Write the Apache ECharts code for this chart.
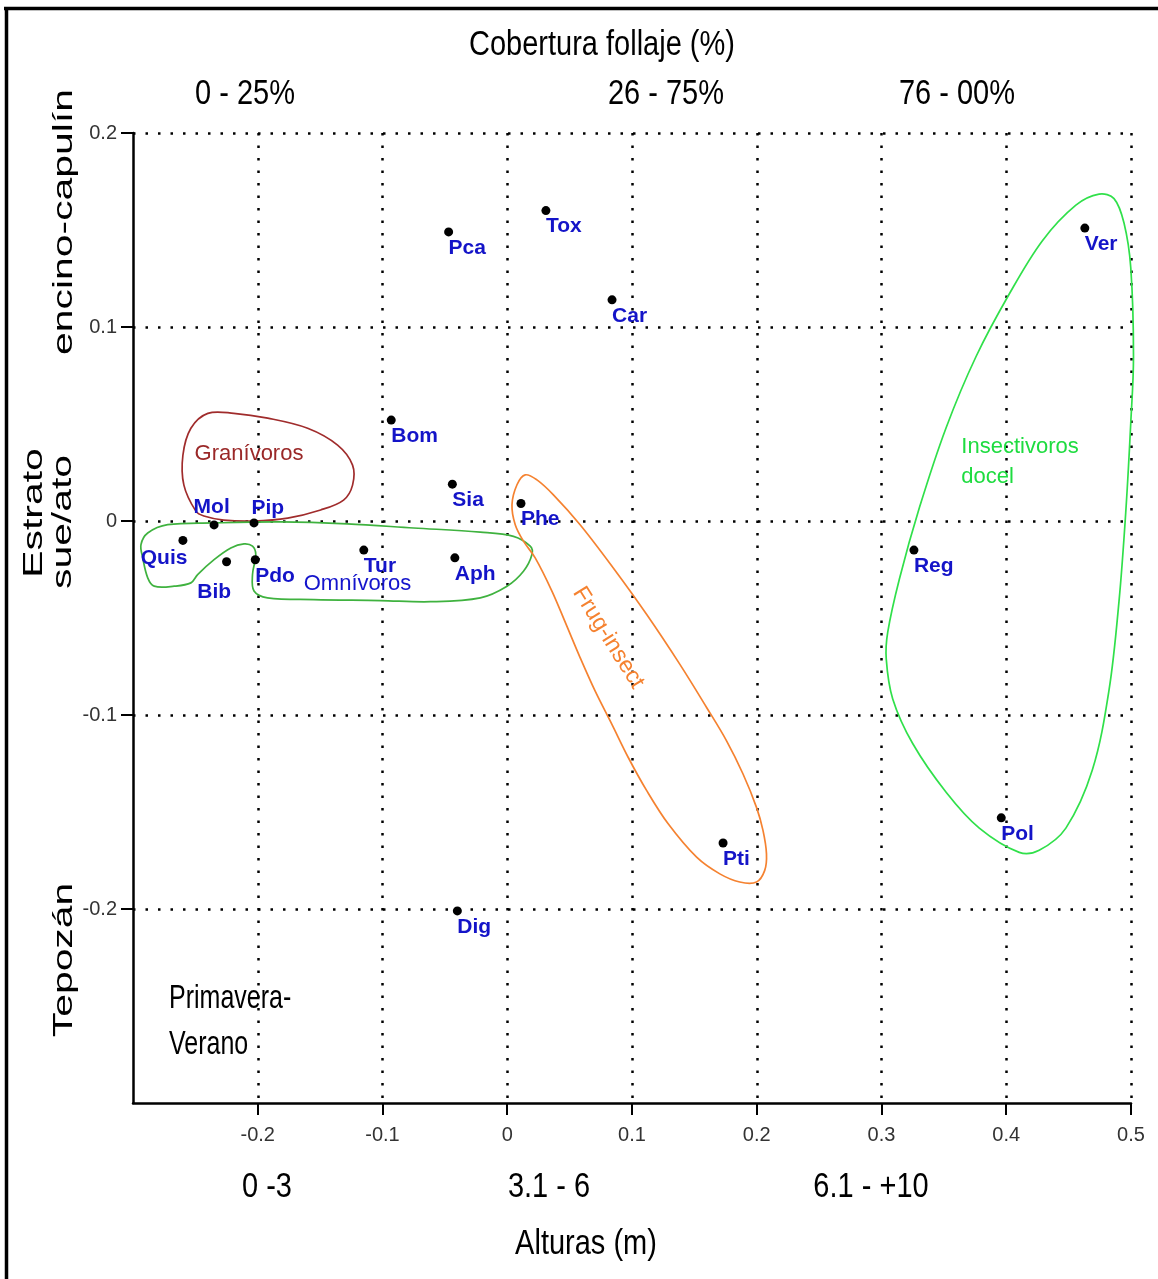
<!DOCTYPE html>
<html>
<head>
<meta charset="utf-8">
<script src="https://cdn.jsdelivr.net/npm/echarts@6/dist/echarts.min.js"></script>
<style>
  html, body { margin: 0; padding: 0; background: #fff; }
  #chart { width: 1158px; height: 1279px; }
</style>
</head>
<body>
<div id="chart"></div>
<script>
// Species codes and their ordination scores
const species = ['Pca', 'Tox', 'Car', 'Ver', 'Bom', 'Sia', 'Phe', 'Mol', 'Pip', 'Quis', 'Bib', 'Pdo', 'Tur', 'Aph', 'Reg', 'Pol', 'Pti', 'Dig'];
const scoreX = [-0.047, 0.031, 0.084, 0.463, -0.093, -0.044, 0.011, -0.235, -0.203, -0.260, -0.225, -0.202, -0.115, -0.042, 0.326, 0.396, 0.173, -0.040];
const scoreY = [0.149, 0.160, 0.114, 0.151, 0.052, 0.019, 0.009, -0.002, -0.001, -0.010, -0.021, -0.020, -0.015, -0.019, -0.015, -0.153, -0.166, -0.201];

// Tick values shown on both axes
const xTicks = [-0.2, -0.1, 0, 0.1, 0.2, 0.3, 0.4, 0.5];
const yTicks = [-0.2, -0.1, 0, 0.1, 0.2];

// Outlines of the feeding guilds, in score coordinates
const granivorosHull = [
  [-0.2496, 0.0051], [-0.2592, 0.0185], [-0.2600, 0.0339], [-0.2536, 0.0478], [-0.2400, 0.0555],
  [-0.2192, 0.0555], [-0.1920, 0.0530], [-0.1600, 0.0478], [-0.1360, 0.0391], [-0.1240, 0.0288],
  [-0.1240, 0.0185], [-0.1312, 0.0108], [-0.1496, 0.0057], [-0.1760, 0.0015], [-0.2032, 0.0000],
  [-0.2272, 0.0005], [-0.2432, 0.0026]
];
const omnivorosHull = [
  [-0.2882, -0.0062], [-0.2722, -0.0019], [-0.2350, -0.0010], [-0.1816, -0.0005], [-0.1282, -0.0015],
  [-0.0750, -0.0036], [-0.0216, -0.0057], [0.0050, -0.0079], [0.0184, -0.0130], [0.0198, -0.0173],
  [0.0130, -0.0259], [-0.0002, -0.0336], [-0.0216, -0.0396], [-0.0616, -0.0416], [-0.1016, -0.0410],
  [-0.1550, -0.0405], [-0.1922, -0.0396], [-0.2030, -0.0361], [-0.2042, -0.0276], [-0.2016, -0.0173],
  [-0.2042, -0.0130], [-0.2110, -0.0118], [-0.2216, -0.0139], [-0.2350, -0.0199], [-0.2482, -0.0276],
  [-0.2536, -0.0319], [-0.2670, -0.0336], [-0.2830, -0.0336], [-0.2882, -0.0293], [-0.2922, -0.0190],
  [-0.2936, -0.0122]
];
const frugInsectHull = [
  [0.0144, 0.0238], [0.0078, 0.0187], [0.0038, 0.0084], [0.0064, -0.0019], [0.0130, -0.0104],
  [0.0224, -0.0190], [0.0358, -0.0361], [0.0472, -0.0533], [0.0584, -0.0704], [0.0704, -0.0876],
  [0.0838, -0.1047], [0.0970, -0.1219], [0.1118, -0.1390], [0.1290, -0.1561], [0.1518, -0.1733],
  [0.1704, -0.1819], [0.1864, -0.1861], [0.1998, -0.1861], [0.2064, -0.1801], [0.2078, -0.1716],
  [0.2050, -0.1595], [0.1998, -0.1476], [0.1890, -0.1304], [0.1758, -0.1133], [0.1598, -0.0961],
  [0.1384, -0.0739], [0.1118, -0.0482], [0.0850, -0.0242], [0.0584, -0.0019], [0.0370, 0.0135],
  [0.0238, 0.0212]
];
const insectivorosHull = [
  [0.4744, 0.1685], [0.4558, 0.1628], [0.4290, 0.1445], [0.4024, 0.1170], [0.3758, 0.0848],
  [0.3518, 0.0481], [0.3304, 0.0069], [0.3144, -0.0298], [0.3050, -0.0573], [0.3038, -0.0711],
  [0.3090, -0.0917], [0.3250, -0.1147], [0.3518, -0.1398], [0.3784, -0.1583], [0.4104, -0.1708],
  [0.4264, -0.1697], [0.4478, -0.1583], [0.4690, -0.1284], [0.4824, -0.0871], [0.4904, -0.0413],
  [0.4958, 0.0046], [0.4998, 0.0504], [0.5020, 0.0848], [0.4998, 0.1307], [0.4944, 0.1536],
  [0.4864, 0.1662]
];

// Guild names and where they are written
const guildNames = ['Granívoros', 'Omnívoros', 'Frug-insect', 'Insectivoros\ndocel'];
const guildX = [-0.207, -0.120, 0.081, 0.364];
const guildY = [0.0344, -0.0324, -0.0602, 0.0305];

const hullShapes = [granivorosHull, omnivorosHull, frugInsectHull, insectivorosHull];
const hullColors = ['#a02c2c', '#3fb23f', '#f58230', '#30e04a'];
const guildColors = ['#9a2828', '#1414cc', '#f58230', '#1edc40'];

// Label placement for species whose name sits away from the default spot
const labelSpot = {
  Quis: { position: [9, 12], align: 'right' },
  Bib: { position: [9, 24], align: 'right' },
  Mol: { position: [-16, -24], align: 'left' },
  Pip: { position: [2, -21], align: 'left' }
};

const FONT = '"Liberation Sans", Arial, sans-serif';

const chart = echarts.init(document.getElementById('chart'), null, { renderer: 'canvas' });

const speciesData = species.map((name, i) => {
  const item = { name: name, value: [scoreX[i], scoreY[i]] };
  if (labelSpot[name]) item.label = labelSpot[name];
  return item;
});

const guildData = guildNames.map((name, i) => {
  const item = {
    name: name,
    value: [guildX[i], guildY[i]],
    label: { color: guildColors[i] }
  };
  if (name === 'Frug-insect') { item.label.rotate = -58; item.label.fontSize = 23; }
  if (name.indexOf('Insectivoros') === 0) {
    item.label.align = 'left';
    item.label.lineHeight = 30;
  }
  return item;
});

function hText(text, x, y, size, sy) {
  return {
    type: 'text', x: x, y: y, scaleX: 1, scaleY: sy, silent: true,
    style: {
      text: text, fontSize: size, fontFamily: FONT, fill: '#000',
      align: 'center', verticalAlign: 'middle'
    }
  };
}
function vText(text, x, y, size, sx) {
  return {
    type: 'text', x: x, y: y, rotation: Math.PI / 2, scaleX: sx, scaleY: 1, silent: true,
    style: {
      text: text, fontSize: size, fontFamily: FONT, fill: '#000',
      align: 'center', verticalAlign: 'middle'
    }
  };
}

const option = {
  animation: false,
  backgroundColor: '#fff',
  grid: { left: 133, right: 27, top: 133, bottom: 176, containLabel: false },
  xAxis: {
    type: 'value', min: -0.3, max: 0.5, interval: 0.1,
    axisLine: { show: true, onZero: false, lineStyle: { color: '#000', width: 2.5 } },
    axisTick: { show: true, length: 12, customValues: xTicks, lineStyle: { color: '#000', width: 2 } },
    axisLabel: { customValues: xTicks, fontSize: 20, fontFamily: FONT, color: '#333', margin: 22 },
    splitLine: { show: true, lineStyle: { color: '#000', width: 2.5, type: [2.5, 10] } }
  },
  yAxis: {
    type: 'value', min: -0.3, max: 0.2, interval: 0.1,
    axisLine: { show: true, onZero: false, lineStyle: { color: '#000', width: 2.5 } },
    axisTick: { show: true, length: 12, customValues: yTicks, lineStyle: { color: '#000', width: 2 } },
    axisLabel: { customValues: yTicks, fontSize: 20, fontFamily: FONT, color: '#333', margin: 16 },
    splitLine: { show: true, lineStyle: { color: '#000', width: 2.5, type: [2.5, 10] } }
  },
  series: [
    {
      name: 'gremios',
      type: 'custom',
      silent: true,
      clip: false,
      z: 2,
      data: hullShapes.map((h, i) => [i, 0]),
      renderItem: function (params, api) {
        const pts = hullShapes[params.dataIndex].map(p => api.coord(p));
        return {
          type: 'polygon',
          shape: { points: pts, smooth: 0.35 },
          style: { fill: 'none', stroke: hullColors[params.dataIndex], lineWidth: 1.7 }
        };
      }
    },
    {
      name: 'especies',
      type: 'scatter',
      symbol: 'circle',
      symbolSize: 9,
      z: 4,
      itemStyle: { color: '#000', opacity: 1 },
      label: {
        show: true,
        formatter: '{b}',
        position: [4.5, 10],
        align: 'left',
        verticalAlign: 'top',
        fontFamily: FONT,
        fontWeight: 'bold',
        fontSize: 21,
        color: '#1414c8',
        opacity: 1
      },
      data: speciesData
    },
    {
      name: 'nombres',
      type: 'scatter',
      symbolSize: 0,
      silent: true,
      z: 3,
      itemStyle: { opacity: 1 },
      label: {
        show: true,
        formatter: '{b}',
        position: [0, 0],
        align: 'center',
        verticalAlign: 'middle',
        fontFamily: FONT,
        fontSize: 22,
        opacity: 1
      },
      data: guildData
    }
  ],
  graphic: {
    elements: [
      { type: 'line', silent: true, shape: { x1: 4, y1: 8.5, x2: 1158, y2: 8.5 }, style: { stroke: '#000', lineWidth: 3.5 } },
      { type: 'line', silent: true, shape: { x1: 6.5, y1: 7, x2: 6.5, y2: 1279 }, style: { stroke: '#000', lineWidth: 3.5 } },
      hText('Cobertura follaje (%)', 602, 45, 29, 1.23),
      hText('0 - 25%', 245, 94, 29, 1.23),
      hText('26 - 75%', 666, 94, 29, 1.23),
      hText('76 - 00%', 957, 94, 29, 1.23),
      hText('0 -3', 267, 1187, 29, 1.23),
      hText('3.1 - 6', 549, 1187, 29, 1.23),
      hText('6.1 - +10', 871, 1187, 29, 1.23),
      hText('Alturas (m)', 586, 1244, 29, 1.23),
      vText('encino-capulín', 64, 222, 28, 1.46),
      vText('Estrato', 34, 513, 28, 1.46),
      vText('sue/ato', 63, 522, 28, 1.46),
      vText('Tepozán', 64, 960, 28, 1.46),
      {
        type: 'text', x: 169, y: 1022, scaleY: 1.3, silent: true,
        style: {
          text: 'Primavera-\nVerano', fontSize: 25, fontFamily: FONT, fill: '#000',
          align: 'left', verticalAlign: 'middle', lineHeight: 35
        }
      }
    ]
  }
};

chart.setOption(option);
</script>
</body>
</html>
